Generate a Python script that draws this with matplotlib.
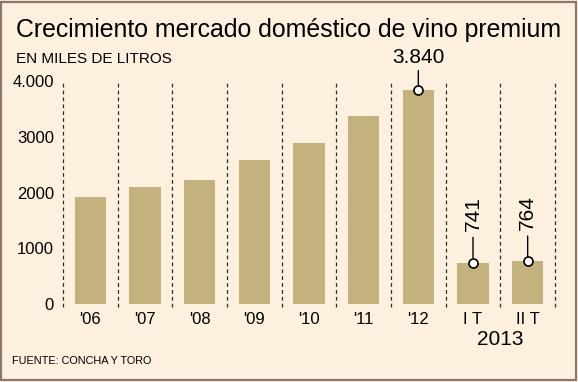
import matplotlib.pyplot as plt
import matplotlib.transforms as mtransforms
from matplotlib.patches import Rectangle

# data (miles de litros)
categorias = ["'06", "'07", "'08", "'09", "'10", "'11", "'12", "I T", "II T"]
valores = [1930, 2095, 2225, 2590, 2890, 3380, 3840, 741, 764]
etiquetas = {6: "3.840", 7: "741", 8: "764"}
yticks = [0, 1000, 2000, 3000, 4000]
ytick_labels = ["0", "1000", "2000", "3000", "4.000"]

BG = "#FDF0DF"
BAR = "#C3B27E"
FONT = ["Liberation Sans Narrow", "DejaVu Sans Condensed", "Liberation Sans", "DejaVu Sans"]

plt.rcParams['font.family'] = FONT

fig = plt.figure(figsize=(5.78, 3.82), dpi=100, facecolor=BG)
ax = fig.add_axes([63 / 578, 78 / 382, 492 / 578, 222.7 / 382])
ax.set_facecolor("none")

x = list(range(len(categorias)))
ax.bar(x, valores, width=0.57, color=BAR, zorder=2)

# separadores punteados
ax.vlines([i - 0.5 for i in range(len(categorias) + 1)], -60, 4000,
          colors="#2b2b2b", linestyles=(0, (3, 2.5)), linewidth=0.9,
          clip_on=False, zorder=1)

ax.set_xlim(-0.5, len(categorias) - 0.5)
ax.set_ylim(0, 4000)
for s in ax.spines.values():
    s.set_visible(False)

ax.set_yticks(yticks)
ax.set_yticklabels(ytick_labels)
ax.set_xticks(x)
ax.set_xticklabels(categorias)
ax.tick_params(axis="y", length=0, pad=6.5, labelsize=12, colors="black")
ax.tick_params(axis="x", length=0, pad=5.5, labelsize=12, colors="black")

# marcadores y etiquetas
for i, txt in etiquetas.items():
    v = valores[i]
    ax.plot(i, v, marker="o", markersize=6.5, markerfacecolor="white",
            markeredgecolor="black", markeredgewidth=1.2, zorder=4,
            clip_on=False)
    if i == 6:
        ax.annotate(txt, xy=(i, v), xytext=(0, 19.5), textcoords="offset points",
                    ha="center", va="baseline", fontsize=15,
                    arrowprops=dict(arrowstyle="-", color="black", lw=1,
                                    shrinkA=0.5, shrinkB=3.6))
    else:
        ax.annotate(txt, xy=(i, v), xytext=(0, 22.8), textcoords="offset points",
                    ha="center", va="bottom", rotation=90, fontsize=15,
                    arrowprops=dict(arrowstyle="-", color="black", lw=1,
                                    shrinkA=2.5, shrinkB=3.6))

trans = mtransforms.blended_transform_factory(ax.transData, ax.transAxes)
ax.text(7.5, -41 / 222.7, "2013", transform=trans, ha="center", va="baseline",
        fontsize=15)

titulo = fig.text(16 / 578, (382 - 37) / 382, "Crecimiento mercado doméstico de vino premium",
                  fontsize=18, ha="left", va="baseline")
subtit = fig.text(16 / 578, (382 - 63) / 382, "EN MILES DE LITROS",
                  fontsize=12, ha="left", va="baseline")
fuente = fig.text(12 / 578, (382 - 364) / 382, "FUENTE: CONCHA Y TORO",
                  fontsize=8.8, ha="left", va="baseline")


def ajustar_ancho(t, ancho_px):
    # escala el tamaño de letra para que el texto ocupe el ancho del original
    fig.canvas.draw()
    w = t.get_window_extent(fig.canvas.get_renderer()).width
    t.set_fontsize(t.get_fontsize() * ancho_px / w)


ajustar_ancho(titulo, 546)
ajustar_ancho(subtit, 156)
ajustar_ancho(fuente, 140)

fig.patches.append(Rectangle((0.002, 0.004), 0.995, 0.992, transform=fig.transFigure,
                             fill=False, edgecolor="#8E766A", linewidth=1.6))

fig.savefig("out.png", dpi=100, facecolor=BG)
